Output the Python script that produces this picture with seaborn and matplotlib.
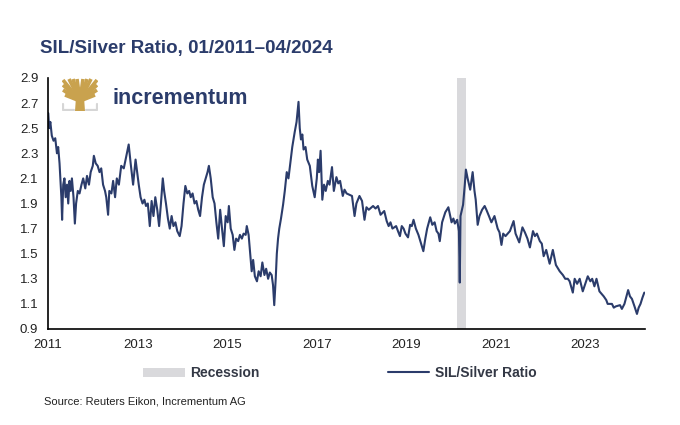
import matplotlib
matplotlib.use('Agg')
import matplotlib.pyplot as plt
import matplotlib.dates as mdates
from matplotlib.patches import Patch, Polygon
from matplotlib.lines import Line2D
import pandas as pd
import seaborn as sns

# SIL/Silver ratio readings
dates_2011 = ['2011-01-03', '2011-01-10', '2011-01-20', '2011-02-01', '2011-02-15', '2011-03-01',
              '2011-03-15', '2011-03-25', '2011-04-05', '2011-04-12', '2011-04-20', '2011-04-26',
              '2011-05-05', '2011-05-15', '2011-05-25', '2011-06-05', '2011-06-15', '2011-06-25',
              '2011-07-05', '2011-07-15', '2011-07-28', '2011-08-08', '2011-08-18', '2011-09-01',
              '2011-09-15', '2011-10-01', '2011-10-15', '2011-11-01', '2011-11-15', '2011-12-01',
              '2011-12-15']
vals_2011 = [2.62, 2.50, 2.55, 2.44, 2.40, 2.42, 2.30, 2.35, 2.22, 2.10, 1.95, 1.77,
             2.05, 2.10, 1.95, 2.05, 1.90, 2.08, 2.00, 2.10, 1.95, 1.74, 1.90, 2.00,
             1.98, 2.05, 2.10, 2.02, 2.12, 2.05, 2.15]

dates_2012 = ['2012-01-01', '2012-01-10', '2012-01-25', '2012-02-10', '2012-02-25', '2012-03-10',
              '2012-03-25', '2012-04-10', '2012-04-20', '2012-05-05', '2012-05-15', '2012-06-01',
              '2012-06-15', '2012-07-01', '2012-07-15', '2012-08-01', '2012-08-20', '2012-09-10',
              '2012-10-01', '2012-10-20', '2012-11-05', '2012-11-25', '2012-12-15', '2012-12-28']
vals_2012 = [2.20, 2.28, 2.22, 2.20, 2.15, 2.18, 2.05, 2.00, 1.95, 1.81, 2.00, 1.98,
             2.08, 1.95, 2.10, 2.05, 2.20, 2.18, 2.28, 2.37, 2.22, 2.05, 2.25, 2.15]

dates_2013 = ['2013-01-10', '2013-01-25', '2013-02-10', '2013-02-25', '2013-03-10', '2013-03-25',
              '2013-04-10', '2013-04-25', '2013-05-10', '2013-05-25', '2013-06-10', '2013-06-25',
              '2013-07-10', '2013-07-25', '2013-08-05', '2013-08-20', '2013-09-05', '2013-09-20',
              '2013-10-05', '2013-10-20', '2013-11-05', '2013-11-20', '2013-12-10', '2013-12-25']
vals_2013 = [2.05, 1.95, 1.90, 1.93, 1.88, 1.90, 1.72, 1.92, 1.80, 1.95, 1.85, 1.72,
             1.90, 2.10, 2.00, 1.90, 1.78, 1.70, 1.80, 1.72, 1.75, 1.68, 1.64, 1.72]

dates_2014 = ['2014-01-10', '2014-01-25', '2014-02-10', '2014-02-25', '2014-03-10', '2014-03-25',
              '2014-04-10', '2014-04-25', '2014-05-10', '2014-05-25', '2014-06-10', '2014-06-25',
              '2014-07-10', '2014-07-25', '2014-08-05', '2014-08-20', '2014-09-05', '2014-09-20',
              '2014-10-05', '2014-10-20', '2014-11-05', '2014-11-20', '2014-12-05', '2014-12-20']
vals_2014 = [1.90, 2.04, 1.98, 2.00, 1.95, 1.98, 1.90, 1.92, 1.85, 1.80, 1.95, 2.05,
             2.10, 2.15, 2.20, 2.10, 1.95, 1.90, 1.75, 1.62, 1.85, 1.70, 1.56, 1.80]

dates_2015 = ['2015-01-05', '2015-01-15', '2015-01-30', '2015-02-15', '2015-03-01', '2015-03-15',
              '2015-04-01', '2015-04-15', '2015-05-01', '2015-05-15', '2015-06-01', '2015-06-10',
              '2015-06-25', '2015-07-10', '2015-07-20', '2015-08-01', '2015-08-15', '2015-09-01',
              '2015-09-15', '2015-10-01', '2015-10-15', '2015-11-01', '2015-11-15', '2015-12-01',
              '2015-12-15', '2015-12-30']
vals_2015 = [1.75, 1.88, 1.70, 1.65, 1.53, 1.62, 1.60, 1.65, 1.62, 1.66, 1.65, 1.72,
             1.65, 1.48, 1.36, 1.45, 1.32, 1.28, 1.36, 1.32, 1.43, 1.33, 1.38, 1.30,
             1.35, 1.33]

dates_2016 = ['2016-01-10', '2016-01-20', '2016-02-01', '2016-02-10', '2016-02-20', '2016-03-01',
              '2016-03-15', '2016-04-01', '2016-04-15', '2016-05-01', '2016-05-15', '2016-06-01',
              '2016-06-15', '2016-07-05', '2016-07-20', '2016-08-05', '2016-08-15', '2016-08-25',
              '2016-09-05', '2016-09-15', '2016-10-01', '2016-10-15', '2016-11-05', '2016-11-25',
              '2016-12-15']
vals_2016 = [1.25, 1.09, 1.30, 1.50, 1.62, 1.70, 1.78, 1.89, 2.00, 2.15, 2.10, 2.24,
             2.35, 2.47, 2.55, 2.71, 2.50, 2.41, 2.45, 2.33, 2.35, 2.25, 2.20, 2.04,
             1.95]

dates_2017 = ['2017-01-01', '2017-01-10', '2017-01-20', '2017-02-01', '2017-02-15', '2017-03-01',
              '2017-03-15', '2017-04-01', '2017-04-15', '2017-05-05', '2017-05-20', '2017-06-10',
              '2017-06-25', '2017-07-10', '2017-08-01', '2017-08-15', '2017-09-01', '2017-10-15',
              '2017-11-05', '2017-11-20', '2017-12-15']
vals_2017 = [2.10, 2.25, 2.15, 2.32, 1.93, 2.05, 2.00, 2.08, 2.05, 2.19, 2.00, 2.11,
             2.06, 2.08, 1.96, 2.01, 1.98, 1.96, 1.80, 1.90, 1.96]

dates_2018 = ['2018-01-05', '2018-01-25', '2018-02-10', '2018-03-01', '2018-04-05', '2018-04-25',
              '2018-05-15', '2018-06-05', '2018-07-05', '2018-07-25', '2018-08-10', '2018-08-25',
              '2018-09-10', '2018-10-10', '2018-10-25', '2018-11-10', '2018-11-25', '2018-12-10',
              '2018-12-25']
vals_2018 = [1.92, 1.77, 1.87, 1.85, 1.88, 1.86, 1.88, 1.81, 1.84, 1.76, 1.72, 1.75,
             1.70, 1.72, 1.68, 1.64, 1.72, 1.70, 1.66]

dates_2019 = ['2019-01-15', '2019-02-01', '2019-02-15', '2019-03-01', '2019-03-20', '2019-04-10',
              '2019-05-20', '2019-06-05', '2019-06-20', '2019-07-15', '2019-08-01', '2019-08-20',
              '2019-09-05', '2019-09-20', '2019-10-01', '2019-10-20', '2019-11-15', '2019-12-10',
              '2019-12-25']
vals_2019 = [1.63, 1.73, 1.72, 1.77, 1.70, 1.65, 1.52, 1.62, 1.70, 1.79, 1.73, 1.75,
             1.68, 1.66, 1.60, 1.75, 1.83, 1.87, 1.80]

dates_2020 = ['2020-01-05', '2020-01-20', '2020-02-01', '2020-02-20', '2020-03-05', '2020-03-12',
              '2020-03-18', '2020-04-08', '2020-04-22', '2020-05-01', '2020-05-15', '2020-06-05',
              '2020-06-25', '2020-07-10', '2020-07-20', '2020-08-05', '2020-08-20', '2020-09-10',
              '2020-10-01', '2020-10-15', '2020-11-05', '2020-11-25', '2020-12-20']
vals_2020 = [1.75, 1.78, 1.74, 1.77, 1.68, 1.27, 1.80, 1.89, 2.05, 2.17, 2.10, 2.01,
             2.15, 2.00, 1.93, 1.73, 1.80, 1.85, 1.88, 1.85, 1.80, 1.75, 1.80]

dates_2021 = ['2021-01-15', '2021-01-30', '2021-02-15', '2021-03-01', '2021-03-20', '2021-04-25',
              '2021-05-25', '2021-06-10', '2021-07-10', '2021-08-05', '2021-08-25', '2021-09-15',
              '2021-10-05', '2021-10-30', '2021-11-15', '2021-12-01', '2021-12-25']
vals_2021 = [1.70, 1.67, 1.57, 1.66, 1.64, 1.68, 1.76, 1.66, 1.59, 1.71, 1.67, 1.62,
             1.55, 1.68, 1.64, 1.66, 1.60]

dates_2022 = ['2022-01-10', '2022-01-25', '2022-02-15', '2022-03-15', '2022-04-10', '2022-05-05',
              '2022-06-05', '2022-07-01', '2022-07-20', '2022-08-10', '2022-08-25', '2022-09-20',
              '2022-10-05', '2022-10-25', '2022-11-15', '2022-12-10']
vals_2022 = [1.58, 1.48, 1.53, 1.42, 1.53, 1.41, 1.36, 1.33, 1.30, 1.30, 1.28, 1.19,
             1.30, 1.26, 1.30, 1.20]

dates_2023 = ['2023-01-20', '2023-02-10', '2023-02-25', '2023-03-15', '2023-04-01', '2023-04-25',
              '2023-05-30', '2023-06-20', '2023-07-01', '2023-08-05', '2023-08-20', '2023-09-05',
              '2023-10-10', '2023-10-25', '2023-11-15', '2023-12-15', '2023-12-30']
vals_2023 = [1.32, 1.28, 1.30, 1.24, 1.30, 1.20, 1.16, 1.13, 1.10, 1.10, 1.07, 1.08,
             1.09, 1.06, 1.10, 1.21, 1.16]

dates_2024 = ['2024-01-15', '2024-02-05', '2024-02-25', '2024-03-10', '2024-03-25', '2024-04-10',
              '2024-04-25']
vals_2024 = [1.14, 1.08, 1.02, 1.07, 1.10, 1.15, 1.19]

recession_start = '2020-02-15'
recession_end = '2020-04-30'

y_ticks = [0.9, 1.1, 1.3, 1.5, 1.7, 1.9, 2.1, 2.3, 2.5, 2.7, 2.9]
x_years = [2011, 2013, 2015, 2017, 2019, 2021, 2023]

navy = '#2b3c6b'
grey = '#d9d9dc'

all_dates = (dates_2011 + dates_2012 + dates_2013 + dates_2014 + dates_2015 + dates_2016 +
             dates_2017 + dates_2018 + dates_2019 + dates_2020 + dates_2021 + dates_2022 +
             dates_2023 + dates_2024)
all_vals = (vals_2011 + vals_2012 + vals_2013 + vals_2014 + vals_2015 + vals_2016 +
            vals_2017 + vals_2018 + vals_2019 + vals_2020 + vals_2021 + vals_2022 +
            vals_2023 + vals_2024)
df = pd.DataFrame({'date': pd.to_datetime(all_dates), 'ratio': all_vals})

sns.set_style('white')
plt.rcParams['font.family'] = ['Liberation Sans', 'DejaVu Sans']

fig = plt.figure(figsize=(6.8, 4.25), dpi=100)
ax = fig.add_axes([0.0706, 0.2259, 0.878, 0.5906])

ax.axvspan(pd.Timestamp(recession_start), pd.Timestamp(recession_end), color=grey, lw=0, zorder=0)
sns.lineplot(data=df, x='date', y='ratio', ax=ax, color=navy, linewidth=1.5, zorder=2)

ax.set_xlim(pd.Timestamp('2011-01-01'), pd.Timestamp('2024-05-01'))
ax.set_ylim(0.9, 2.9)
ax.set_yticks(y_ticks)
ax.set_yticklabels([f'{v:.1f}' for v in y_ticks])
ax.set_xticks([pd.Timestamp(f'{y}-01-01') for y in x_years])
ax.xaxis.set_major_formatter(mdates.DateFormatter('%Y'))
ax.set_xlabel('')
ax.set_ylabel('')
sns.despine(ax=ax)
for s in ['left', 'bottom']:
    ax.spines[s].set_color('black')
    ax.spines[s].set_linewidth(1.2)
ax.tick_params(axis='both', direction='out', length=4, width=1, color='black',
               labelsize=9.5, labelcolor='#222222', pad=3)

# title
fig.text(0.059, 0.887, 'SIL/Silver Ratio, 01/2011\u201304/2024', fontsize=13.5, fontweight='bold',
         color=navy, va='center', ha='left')

# logo
lax = fig.add_axes([62 / 680, 1 - 111 / 425, 36 / 680, 33 / 425])
lax.set_xlim(0, 36)
lax.set_ylim(0, 33)
lax.axis('off')
gold = '#c9a24e'
lax.add_patch(Polygon([[13, 0], [23, 0], [22, 14], [14, 14]], closed=True, color=gold, lw=0))
for x1, y1 in [(1, 31), (1, 26), (1, 21), (3, 16), (7, 32), (11, 32), (15, 32), (21, 32),
               (25, 32), (29, 32), (35, 31), (35, 26), (35, 21), (33, 16)]:
    lax.plot([18, x1], [10, y1], color=gold, lw=2.6, solid_capstyle='butt')
lax.plot([1, 1, 12], [7, 1, 1], color='#d6d6d6', lw=1.6)
lax.plot([24, 35, 35], [1, 1, 7], color='#d6d6d6', lw=1.6)
fig.text(113 / 680, 1 - 98 / 425, 'incrementum', fontsize=15.5, fontweight='bold',
         color=navy, va='center', ha='left')

# legend
handles = [Patch(facecolor=grey, edgecolor='none', label='Recession'),
           Line2D([0], [0], color=navy, lw=1.5, label='SIL/Silver Ratio')]
fig.legend(handles=handles, loc='center', bbox_to_anchor=(0.5, 1 - 373 / 425), ncol=2,
           frameon=False, handlelength=3, handleheight=0.6, columnspacing=9.2, handletextpad=0.4,
           prop={'weight': 'bold', 'size': 10}, labelcolor='#333845')

fig.text(44 / 680, 1 - 401 / 425, 'Source: Reuters Eikon, Incrementum AG', fontsize=8,
         color='#222222', va='center', ha='left')

fig.savefig('out.png', dpi=100)
